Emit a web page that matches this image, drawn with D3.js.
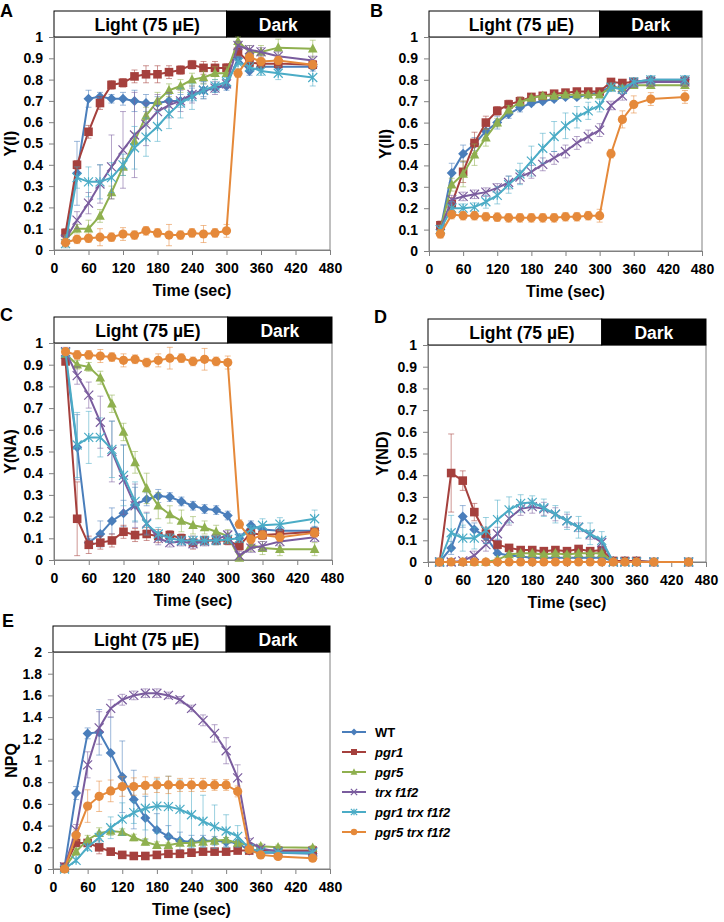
<!DOCTYPE html>
<html>
<head>
<meta charset="utf-8">
<script src="https://cdn.jsdelivr.net/npm/d3@7"></script>
<style>
  body { margin: 0; background: #fff; }
  text { font-family: "Liberation Sans", Arial, sans-serif; font-weight: bold; }
</style>
</head>
<body>
<script>
// sampling times (sec), same for every panel
var times = [20, 40, 60, 80, 100, 120, 140, 160, 180, 200, 220, 240, 260, 280, 300, 320, 340, 360, 390, 450];

var seriesNames = ["WT", "pgr1", "pgr5", "trx f1f2", "pgr1 trx f1f2", "pgr5 trx f1f2"];
var seriesColors = ["#4a7ebb", "#a5403d", "#8fb04f", "#7a5c9e", "#4bacc6", "#e5893a"];
var seriesMarkers = ["diamond", "square", "triangle", "cross", "asterisk", "circle"];

// A: Y(I)
var yI = [
  [0.07, 0.36, 0.71, 0.72, 0.71, 0.71, 0.70, 0.69, 0.69, 0.70, 0.70, 0.73, 0.75, 0.76, 0.77, 0.90, 0.84, 0.86, 0.86, 0.86],
  [0.08, 0.40, 0.555, 0.69, 0.775, 0.785, 0.815, 0.825, 0.825, 0.835, 0.845, 0.87, 0.855, 0.855, 0.855, 0.93, 0.88, 0.875, 0.875, 0.87],
  [0.05, 0.10, 0.10, 0.16, 0.27, 0.39, 0.51, 0.63, 0.70, 0.75, 0.77, 0.80, 0.81, 0.83, 0.83, 0.98, 0.93, 0.93, 0.95, 0.945],
  [0.05, 0.14, 0.22, 0.31, 0.39, 0.47, 0.54, 0.59, 0.65, 0.68, 0.70, 0.73, 0.75, 0.76, 0.78, 0.96, 0.94, 0.93, 0.91, 0.89],
  [0.03, 0.34, 0.32, 0.32, 0.34, 0.40, 0.48, 0.53, 0.58, 0.64, 0.69, 0.72, 0.75, 0.77, 0.79, 0.88, 0.86, 0.84, 0.83, 0.81],
  [0.035, 0.05, 0.055, 0.06, 0.06, 0.075, 0.07, 0.09, 0.08, 0.07, 0.07, 0.08, 0.075, 0.08, 0.09, 0.83, 0.905, 0.885, 0.89, 0.87]
];
var yIErr = [
  [0.02, 0.15, 0.04, 0.02, 0.02, 0.03, 0.05, 0.04, 0.03, 0.03, 0.03, 0.03, 0.03, 0.02, 0.02, 0.03, 0.02, 0.02, 0.02, 0.02],
  [0.02, 0.02, 0.03, 0.03, 0.02, 0.02, 0.03, 0.04, 0.04, 0.03, 0.02, 0.02, 0.03, 0.03, 0.02, 0.02, 0.02, 0.02, 0.02, 0.02],
  [0.02, 0.02, 0.04, 0.03, 0.03, 0.04, 0.04, 0.04, 0.04, 0.03, 0.03, 0.03, 0.03, 0.03, 0.03, 0.02, 0.03, 0.03, 0.04, 0.04],
  [0.02, 0.04, 0.05, 0.09, 0.15, 0.18, 0.20, 0.10, 0.08, 0.06, 0.05, 0.04, 0.04, 0.03, 0.02, 0.02, 0.02, 0.02, 0.02, 0.02],
  [0.02, 0.05, 0.07, 0.08, 0.07, 0.05, 0.10, 0.09, 0.07, 0.07, 0.07, 0.06, 0.04, 0.03, 0.02, 0.03, 0.02, 0.02, 0.03, 0.04],
  [0.02, 0.02, 0.02, 0.04, 0.02, 0.03, 0.02, 0.02, 0.02, 0.05, 0.02, 0.02, 0.04, 0.02, 0.03, 0.02, 0.02, 0.02, 0.02, 0.02]
];

// B: Y(II)
var yII = [
  [0.10, 0.365, 0.455, 0.50, 0.56, 0.60, 0.64, 0.67, 0.69, 0.70, 0.71, 0.72, 0.72, 0.73, 0.74, 0.77, 0.76, 0.79, 0.80, 0.80],
  [0.12, 0.22, 0.37, 0.505, 0.60, 0.655, 0.685, 0.70, 0.72, 0.725, 0.735, 0.74, 0.745, 0.745, 0.745, 0.79, 0.785, 0.79, 0.795, 0.795],
  [0.10, 0.31, 0.36, 0.45, 0.53, 0.60, 0.66, 0.695, 0.715, 0.725, 0.725, 0.73, 0.73, 0.73, 0.73, 0.765, 0.76, 0.775, 0.775, 0.775],
  [0.10, 0.24, 0.255, 0.265, 0.275, 0.295, 0.32, 0.345, 0.37, 0.405, 0.435, 0.465, 0.505, 0.535, 0.565, 0.68, 0.725, 0.785, 0.79, 0.79],
  [0.10, 0.20, 0.20, 0.205, 0.23, 0.26, 0.31, 0.36, 0.42, 0.48, 0.535, 0.585, 0.625, 0.655, 0.68, 0.765, 0.755, 0.79, 0.80, 0.80],
  [0.08, 0.17, 0.165, 0.165, 0.16, 0.158, 0.155, 0.155, 0.155, 0.155, 0.155, 0.16, 0.16, 0.165, 0.165, 0.455, 0.615, 0.685, 0.71, 0.72]
];
var yIIErr = [
  [0.02, 0.045, 0.04, 0.03, 0.03, 0.03, 0.02, 0.02, 0.01, 0.01, 0.01, 0.01, 0.01, 0.01, 0.01, 0.01, 0.01, 0.01, 0.01, 0.01],
  [0.02, 0.03, 0.05, 0.05, 0.03, 0.02, 0.02, 0.02, 0.01, 0.01, 0.01, 0.01, 0.01, 0.01, 0.01, 0.01, 0.01, 0.01, 0.01, 0.01],
  [0.02, 0.03, 0.06, 0.05, 0.04, 0.02, 0.02, 0.02, 0.01, 0.01, 0.01, 0.01, 0.01, 0.01, 0.01, 0.01, 0.01, 0.01, 0.01, 0.01],
  [0.02, 0.02, 0.02, 0.02, 0.02, 0.02, 0.03, 0.03, 0.03, 0.03, 0.03, 0.03, 0.03, 0.03, 0.03, 0.02, 0.02, 0.02, 0.02, 0.02],
  [0.02, 0.03, 0.02, 0.02, 0.03, 0.04, 0.04, 0.05, 0.07, 0.07, 0.07, 0.06, 0.05, 0.04, 0.03, 0.02, 0.02, 0.02, 0.02, 0.02],
  [0.02, 0.02, 0.02, 0.02, 0.02, 0.02, 0.02, 0.02, 0.02, 0.02, 0.02, 0.02, 0.02, 0.02, 0.03, 0.02, 0.04, 0.04, 0.03, 0.03]
];

// C: Y(NA)
var yNA = [
  [0.93, 0.52, 0.08, 0.12, 0.18, 0.215, 0.255, 0.28, 0.295, 0.29, 0.27, 0.25, 0.235, 0.23, 0.205, 0.10, 0.16, 0.14, 0.135, 0.135],
  [0.915, 0.19, 0.07, 0.08, 0.09, 0.13, 0.115, 0.12, 0.11, 0.115, 0.10, 0.08, 0.09, 0.09, 0.09, 0.065, 0.125, 0.115, 0.12, 0.13],
  [0.95, 0.90, 0.89, 0.84, 0.72, 0.59, 0.45, 0.33, 0.25, 0.21, 0.18, 0.16, 0.15, 0.13, 0.11, 0.01, 0.07, 0.055, 0.05, 0.05],
  [0.96, 0.85, 0.76, 0.635, 0.50, 0.37, 0.25, 0.17, 0.10, 0.08, 0.085, 0.075, 0.085, 0.095, 0.115, 0.02, 0.055, 0.065, 0.085, 0.105],
  [0.955, 0.53, 0.565, 0.565, 0.51, 0.39, 0.27, 0.165, 0.12, 0.10, 0.09, 0.09, 0.09, 0.09, 0.095, 0.10, 0.14, 0.16, 0.165, 0.19],
  [0.96, 0.945, 0.945, 0.94, 0.935, 0.92, 0.925, 0.91, 0.92, 0.93, 0.93, 0.915, 0.925, 0.915, 0.91, 0.165, 0.095, 0.115, 0.105, 0.125]
];
var yNAErr = [
  [0.01, 0.15, 0.02, 0.06, 0.06, 0.06, 0.08, 0.03, 0.03, 0.02, 0.02, 0.02, 0.02, 0.02, 0.02, 0.02, 0.02, 0.02, 0.02, 0.02],
  [0.01, 0.17, 0.04, 0.03, 0.03, 0.03, 0.03, 0.03, 0.03, 0.02, 0.02, 0.03, 0.02, 0.02, 0.02, 0.02, 0.02, 0.02, 0.02, 0.02],
  [0.01, 0.02, 0.02, 0.03, 0.04, 0.04, 0.05, 0.07, 0.06, 0.04, 0.05, 0.04, 0.03, 0.03, 0.03, 0.02, 0.03, 0.03, 0.03, 0.03],
  [0.02, 0.04, 0.06, 0.12, 0.14, 0.16, 0.10, 0.05, 0.03, 0.02, 0.02, 0.02, 0.02, 0.02, 0.02, 0.02, 0.02, 0.02, 0.02, 0.02],
  [0.01, 0.15, 0.12, 0.09, 0.13, 0.14, 0.09, 0.05, 0.03, 0.02, 0.02, 0.02, 0.02, 0.02, 0.02, 0.02, 0.02, 0.03, 0.03, 0.04],
  [0.01, 0.02, 0.02, 0.03, 0.02, 0.03, 0.02, 0.02, 0.03, 0.05, 0.02, 0.02, 0.05, 0.02, 0.03, 0.02, 0.02, 0.02, 0.02, 0.02]
];

// D: Y(ND)
var yND = [
  [0, 0.065, 0.21, 0.15, 0.115, 0.04, 0.03, 0.025, 0.02, 0.02, 0.02, 0.02, 0.02, 0.02, 0.02, 0.005, 0.005, 0.005, 0, 0],
  [0, 0.41, 0.375, 0.23, 0.13, 0.08, 0.065, 0.055, 0.055, 0.05, 0.055, 0.05, 0.06, 0.05, 0.055, 0.005, 0.005, 0.005, 0, 0],
  [0, 0, 0, 0, 0, 0.01, 0.035, 0.04, 0.04, 0.035, 0.04, 0.035, 0.04, 0.04, 0.04, 0, 0, 0, 0, 0],
  [0, 0, 0.005, 0.03, 0.08, 0.13, 0.20, 0.245, 0.255, 0.245, 0.22, 0.19, 0.16, 0.125, 0.09, 0, 0, 0, 0, 0],
  [0, 0.135, 0.11, 0.11, 0.145, 0.195, 0.24, 0.27, 0.275, 0.25, 0.22, 0.19, 0.16, 0.13, 0.10, 0, 0, 0, 0, 0],
  [0, 0, 0, 0, 0, 0, 0, 0, 0, 0, 0, 0, 0, 0, 0, 0, 0, 0, 0, 0]
];
var yNDErr = [
  [0, 0.03, 0.05, 0.03, 0.03, 0.01, 0.01, 0.01, 0.01, 0.01, 0.01, 0.01, 0.01, 0.01, 0.01, 0, 0, 0, 0, 0],
  [0, 0.18, 0.045, 0.04, 0.03, 0.02, 0.01, 0.01, 0.01, 0.01, 0.01, 0.01, 0.01, 0.01, 0.01, 0, 0, 0, 0, 0],
  [0, 0, 0, 0, 0, 0.01, 0.01, 0.01, 0.01, 0.01, 0.01, 0.01, 0.01, 0.01, 0.01, 0, 0, 0, 0, 0],
  [0, 0, 0, 0.02, 0.03, 0.03, 0.03, 0.03, 0.03, 0.03, 0.03, 0.03, 0.02, 0.02, 0.02, 0, 0, 0, 0, 0],
  [0, 0.08, 0.06, 0.05, 0.06, 0.09, 0.06, 0.04, 0.03, 0.04, 0.04, 0.04, 0.05, 0.05, 0.04, 0, 0, 0, 0, 0],
  [0, 0, 0, 0, 0, 0, 0, 0, 0, 0, 0, 0, 0, 0, 0, 0, 0, 0, 0, 0]
];

// E: NPQ
var npq = [
  [0.02, 0.70, 1.25, 1.26, 1.07, 0.85, 0.64, 0.47, 0.36, 0.30, 0.26, 0.25, 0.26, 0.26, 0.25, 0.24, 0.17, 0.15, 0.15, 0.14],
  [0.02, 0.24, 0.24, 0.20, 0.16, 0.13, 0.12, 0.12, 0.13, 0.14, 0.14, 0.15, 0.16, 0.16, 0.16, 0.17, 0.17, 0.17, 0.17, 0.17],
  [0.01, 0.16, 0.27, 0.33, 0.35, 0.34, 0.29, 0.25, 0.22, 0.22, 0.24, 0.24, 0.25, 0.26, 0.27, 0.24, 0.22, 0.21, 0.20, 0.195],
  [0.02, 0.36, 0.96, 1.30, 1.48, 1.56, 1.60, 1.62, 1.62, 1.60, 1.56, 1.48, 1.37, 1.25, 1.09, 0.84, 0.25, 0.19, 0.16, 0.16],
  [0.00, 0.08, 0.20, 0.29, 0.38, 0.46, 0.52, 0.56, 0.58, 0.575, 0.55, 0.50, 0.44, 0.39, 0.35, 0.30, 0.19, 0.16, 0.15, 0.15],
  [0.00, 0.31, 0.58, 0.67, 0.72, 0.76, 0.76, 0.77, 0.775, 0.775, 0.775, 0.775, 0.775, 0.775, 0.775, 0.715, 0.18, 0.13, 0.115, 0.10]
];
var npqErr = [
  [0.01, 0.06, 0.05, 0.21, 0.33, 0.33, 0.27, 0.20, 0.15, 0.10, 0.08, 0.06, 0.05, 0.04, 0.04, 0.03, 0.02, 0.02, 0.02, 0.02],
  [0.01, 0.03, 0.03, 0.06, 0.03, 0.02, 0.02, 0.02, 0.02, 0.02, 0.02, 0.02, 0.02, 0.02, 0.02, 0.02, 0.02, 0.02, 0.02, 0.02],
  [0.01, 0.03, 0.04, 0.05, 0.04, 0.03, 0.03, 0.03, 0.03, 0.02, 0.02, 0.02, 0.02, 0.02, 0.02, 0.02, 0.02, 0.02, 0.02, 0.02],
  [0.01, 0.05, 0.12, 0.15, 0.08, 0.05, 0.04, 0.04, 0.04, 0.03, 0.03, 0.03, 0.05, 0.08, 0.12, 0.12, 0.03, 0.02, 0.02, 0.02],
  [0.01, 0.02, 0.03, 0.05, 0.10, 0.15, 0.10, 0.20, 0.25, 0.28, 0.27, 0.30, 0.24, 0.20, 0.15, 0.10, 0.03, 0.02, 0.02, 0.02],
  [0.01, 0.05, 0.15, 0.14, 0.10, 0.09, 0.08, 0.08, 0.07, 0.08, 0.06, 0.06, 0.06, 0.05, 0.05, 0.05, 0.02, 0.02, 0.02, 0.02]
];

var xTicks = [0, 60, 120, 180, 240, 300, 360, 420, 480];
var lightEnd = 300; // light switched off at 300 s

// tx = baseline x of the rotated y title
var panels = [
  { letter: "A", ylabel: "Y(I)", vals: yI, errs: yIErr, ymax: 1, ystep: 0.1, left: 54, right: 330, top: 37, bottom: 250, lx: 0, ly: 17, tx: 16 },
  { letter: "B", ylabel: "Y(II)", vals: yII, errs: yIIErr, ymax: 1, ystep: 0.1, left: 429, right: 702, top: 37, bottom: 251, lx: 370, ly: 17, tx: 391 },
  { letter: "C", ylabel: "Y(NA)", vals: yNA, errs: yNAErr, ymax: 1, ystep: 0.1, left: 54, right: 332, top: 343, bottom: 560, lx: 0, ly: 321, tx: 16 },
  { letter: "D", ylabel: "Y(ND)", vals: yND, errs: yNDErr, ymax: 1, ystep: 0.1, left: 428, right: 706, top: 345, bottom: 562, lx: 374, ly: 323, tx: 388 },
  { letter: "E", ylabel: "NPQ", vals: npq, errs: npqErr, ymax: 2, ystep: 0.2, left: 53, right: 330, top: 652, bottom: 869, lx: 2, ly: 627, tx: 17 }
];

var svg = d3.select("body").append("svg")
  .attr("width", 724)
  .attr("height", 922);

// marker shapes, centred on 0,0
function markerPath(type, s) {
  if (type === "diamond") return "M0," + (-s) + "L" + s + ",0L0," + s + "L" + (-s) + ",0Z";
  if (type === "square") return "M" + (-s) + "," + (-s) + "h" + 2 * s + "v" + 2 * s + "h" + (-2 * s) + "Z";
  if (type === "triangle") return "M0," + (-s * 1.1) + "L" + s + "," + s * 0.8 + "L" + (-s) + "," + s * 0.8 + "Z";
  if (type === "cross") return "M" + (-s) + "," + (-s) + "L" + s + "," + s + "M" + (-s) + "," + s + "L" + s + "," + (-s);
  if (type === "asterisk") return "M" + (-s) + "," + (-s) + "L" + s + "," + s + "M" + (-s) + "," + s + "L" + s + "," + (-s) + "M0," + (-s) + "L0," + s;
  return "";
}

function drawMarker(g, type, color, x, y, s) {
  if (type === "circle") {
    g.append("circle").attr("cx", x).attr("cy", y).attr("r", s).attr("fill", color);
  } else if (type === "cross" || type === "asterisk") {
    g.append("path").attr("d", markerPath(type, s)).attr("transform", "translate(" + x + "," + y + ")")
      .attr("stroke", color).attr("stroke-width", 1.2).attr("fill", "none");
  } else {
    g.append("path").attr("d", markerPath(type, s)).attr("transform", "translate(" + x + "," + y + ")")
      .attr("fill", color);
  }
}

var markerSize = { diamond: 5, square: 4.3, triangle: 4.8, cross: 4.5, asterisk: 4.5, circle: 4.6 };

panels.forEach(function (p) {
  var x = d3.scaleLinear().domain([0, 480]).range([p.left, p.right]);
  var y = d3.scaleLinear().domain([0, p.ymax]).range([p.bottom, p.top]);
  var yTicks = d3.range(0, p.ymax + p.ystep / 2, p.ystep);
  var g = svg.append("g");

  // plot frame
  g.append("rect")
    .attr("x", p.left).attr("y", p.top)
    .attr("width", p.right - p.left).attr("height", p.bottom - p.top)
    .attr("fill", "none").attr("stroke", "#808080");

  // light / dark header bar
  var hTop = p.top - 26;
  g.append("rect").attr("x", x(0)).attr("y", hTop).attr("width", x(lightEnd) - x(0)).attr("height", 26)
    .attr("fill", "#fff").attr("stroke", "#000");
  g.append("rect").attr("x", x(lightEnd)).attr("y", hTop).attr("width", x(480) - x(lightEnd)).attr("height", 26)
    .attr("fill", "#000").attr("stroke", "#000");
  g.append("text").attr("x", (x(0) + x(lightEnd)) / 2 + 7).attr("y", hTop + 20)
    .attr("text-anchor", "middle").style("font-size", "17.5px").text("Light (75 µE)");
  g.append("text").attr("x", (x(lightEnd) + x(480)) / 2).attr("y", hTop + 20)
    .attr("text-anchor", "middle").attr("fill", "#fff").style("font-size", "17.5px").text("Dark");

  // axes
  var yAxis = g.append("g").attr("transform", "translate(" + p.left + ",0)")
    .call(d3.axisLeft(y).tickValues(yTicks).tickSize(5).tickSizeOuter(0).tickPadding(6)
      .tickFormat(function (d) { return String(+d.toFixed(1)); }));
  var xAxis = g.append("g").attr("transform", "translate(0," + p.bottom + ")")
    .call(d3.axisBottom(x).tickValues(xTicks).tickSize(5).tickSizeOuter(0).tickPadding(8));
  [yAxis, xAxis].forEach(function (a) {
    a.select(".domain").attr("stroke", "#808080");
    a.selectAll(".tick line").attr("stroke", "#808080");
    a.selectAll(".tick text").attr("fill", "#000").style("font-size", "14px")
      .style("font-family", "'Liberation Sans', Arial, sans-serif").style("font-weight", "bold");
  });

  // axis titles and panel letter
  g.append("text").attr("transform", "translate(" + p.tx + "," + (p.top + p.bottom) / 2 + ") rotate(-90)")
    .attr("text-anchor", "middle").style("font-size", "16px").text(p.ylabel);
  g.append("text").attr("x", (p.left + p.right) / 2).attr("y", p.bottom + 46)
    .attr("text-anchor", "middle").style("font-size", "16px").text("Time (sec)");
  g.append("text").attr("x", p.lx).attr("y", p.ly).style("font-size", "18px").text(p.letter);

  // series
  var line = d3.line().x(function (d, i) { return x(times[i]); }).y(function (d) { return y(d); });
  p.vals.forEach(function (vals, si) {
    var color = seriesColors[si];
    var sg = g.append("g");
    // error bars
    vals.forEach(function (v, i) {
      var e = p.errs[si][i];
      if (!e) return;
      var cx = x(times[i]);
      var y0 = y(Math.max(0, v - e)), y1 = y(v + e);
      sg.append("path")
        .attr("d", "M" + cx + "," + y0 + "V" + y1 + "M" + (cx - 3) + "," + y0 + "h6M" + (cx - 3) + "," + y1 + "h6")
        .attr("stroke", color).attr("stroke-opacity", 0.55).attr("stroke-width", 1).attr("fill", "none");
    });
    sg.append("path").datum(vals).attr("d", line)
      .attr("fill", "none").attr("stroke", color).attr("stroke-width", 2);
    vals.forEach(function (v, i) {
      drawMarker(sg, seriesMarkers[si], color, x(times[i]), y(v), markerSize[seriesMarkers[si]]);
    });
  });
});

// legend
var legend = svg.append("g").attr("transform", "translate(342,732)");
seriesNames.forEach(function (name, i) {
  var row = legend.append("g").attr("transform", "translate(0," + i * 20 + ")");
  row.append("line").attr("x1", 0).attr("x2", 24).attr("y1", 0).attr("y2", 0)
    .attr("stroke", seriesColors[i]).attr("stroke-width", 2);
  drawMarker(row, seriesMarkers[i], seriesColors[i], 12, 0, markerSize[seriesMarkers[i]] * 0.7);
  row.append("text").attr("x", 33).attr("y", 4.5)
    .style("font-size", "13px").style("font-style", i === 0 ? "normal" : "italic").text(name);
});
</script>
</body>
</html>
